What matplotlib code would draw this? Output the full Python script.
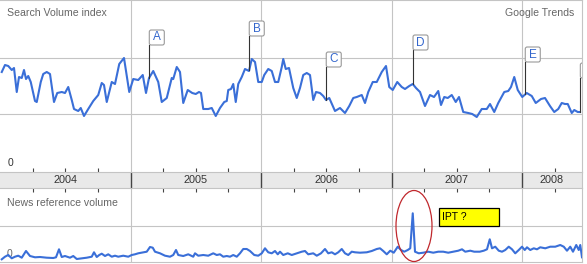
import numpy as np
import matplotlib
matplotlib.use("Agg")
import matplotlib.pyplot as plt
from matplotlib.patches import FancyBboxPatch, Ellipse, Rectangle

plt.rcParams['font.family'] = ['Liberation Sans', 'DejaVu Sans']

# search volume index, weeks since start of 2004 / relative index
search_weeks = [0.7, 2.0, 3.3, 4.7, 5.6, 6.7, 7.6, 8.7, 9.6, 10.4, 11.3, 12.3, 14.0, 14.7, 16.3, 17.3, 18.7, 20.0,
                21.6, 22.9, 24.7, 26.0, 27.3, 28.7, 29.6, 31.3, 32.3, 33.6, 35.3, 37.3, 39.3, 40.7, 41.6, 42.7,
                44.7, 46.0, 47.7, 49.6, 51.7, 53.3, 55.3, 57.1, 58.4, 59.6, 61.3, 63.3, 64.7, 66.7, 68.7, 69.3,
                70.7, 72.0, 73.3, 75.1, 76.9, 78.3, 79.6, 80.4, 81.3, 83.3, 84.7, 86.3, 88.0, 89.7, 90.7, 91.3,
                92.4, 93.3, 94.3, 95.3, 96.7, 98.0, 99.6, 100.7, 102.0, 103.3, 104.7, 105.7, 107.3, 108.7, 110.0,
                111.3, 112.7, 113.3, 114.3, 115.6, 117.3, 118.7, 120.0, 121.3, 122.7, 124.0, 125.3, 126.4, 128.0,
                129.3, 130.4, 131.7, 134.0, 136.0, 138.0, 139.7, 141.3, 142.7, 144.7, 146.0, 147.3, 149.1, 150.7,
                152.7, 154.4, 155.7, 157.1, 158.9, 160.7, 162.0, 163.7, 165.1, 166.4, 168.0, 170.0, 172.0, 173.6,
                175.3, 176.4, 177.7, 179.1, 180.7, 182.3, 183.6, 185.3, 187.3, 188.9, 190.7, 192.7, 194.7, 196.0,
                197.7, 199.3, 201.7, 203.3, 204.4, 205.7, 207.1, 208.9, 210.7, 212.7, 214.3, 216.4, 218.0, 220.0,
                221.7, 223.3, 224.7, 226.0, 227.1, 228.7, 229.7, 231.1, 232.0]
search_vals = [98, 105, 104, 100, 102, 78, 93, 92, 100, 91, 94, 88, 69, 68, 88, 96, 98, 96,
               68, 77, 78, 77, 83, 70, 61, 59, 62, 54, 61, 69, 75, 87, 85, 68,
               88, 86, 106, 112, 78, 91, 90, 95, 77, 92, 99, 88, 68, 72, 92, 91,
               103, 98, 67, 80, 77, 76, 78, 77, 61, 61, 62, 54, 62, 68, 69, 80,
               81, 86, 68, 86, 93, 101, 99, 111, 108, 88, 88, 95, 101, 99, 88,
               88, 103, 111, 101, 102, 82, 72, 82, 95, 97, 95, 70, 78, 77,
               74, 70, 72, 59, 62, 57, 64, 72, 73, 75, 67, 78, 88, 88,
               98, 104, 83, 80, 88, 83, 81, 84, 86, 82, 78, 64, 75, 73,
               79, 65, 73, 72, 75, 68, 73, 58, 57, 56, 53, 61, 61, 66,
               58, 67, 78, 79, 83, 93, 80, 73, 77, 74, 67, 71, 72, 64,
               58, 61, 67, 66, 66, 57, 60, 58, 58]

# news reference volume
news_weeks = [0.7, 2.0, 3.3, 4.7, 6.0, 7.3, 8.7, 10.4, 12.0, 14.0, 16.0, 18.7, 21.3, 22.4, 23.6, 24.7, 26.0,
              28.0, 29.3, 30.7, 32.7, 34.7, 36.7, 37.6, 38.7, 39.7, 40.7, 42.0, 43.3, 44.7, 46.0, 47.3, 49.3,
              51.3, 52.7, 54.0, 55.3, 57.3, 58.7, 60.0, 61.1, 62.0, 64.0, 66.0, 68.0, 69.3, 70.4, 71.3, 73.3,
              75.3, 77.3, 78.0, 79.3, 81.3, 83.3, 85.3, 86.7, 88.0, 89.3, 90.7, 92.0, 93.3, 94.7, 96.0, 97.3,
              98.7, 100.0, 101.7, 103.3, 104.7, 106.0, 107.3, 108.7, 110.0, 111.1, 112.0, 113.3, 115.1, 116.7,
              118.7, 120.7, 122.0, 123.3, 125.3, 126.7, 128.4, 130.0, 131.3, 132.7, 134.0, 135.3, 136.7, 138.0,
              139.3, 140.7, 142.0, 144.0, 146.7, 148.7, 150.7, 152.0, 153.3, 154.7, 156.1, 157.5, 159.1, 160.4,
              161.7, 163.1, 164.1, 165.1, 166.0, 167.5, 169.3, 171.3, 173.3, 175.3, 177.3, 179.3, 181.3, 183.3,
              184.8, 186.1, 188.1, 189.7, 191.9, 193.5, 194.8, 195.9, 196.8, 198.1, 199.5, 200.8, 202.1, 203.5,
              204.8, 206.1, 207.5, 208.8, 209.9, 210.8, 212.1, 213.5, 214.8, 216.1, 218.1, 220.1, 222.1, 224.1,
              225.5, 226.8, 228.1, 229.2, 230.5, 231.5, 232.1, 232.8]
news_vals = [1.7, 4.3, 6, 2.7, 4.3, 5.3, 3.3, 10, 5, 3.7, 4, 3.3, 3, 3.7, 11.7, 4, 5,
             3.3, 5, 2, 2.7, 3.3, 4.3, 8.7, 4, 6, 7.3, 5, 6.7, 4.3, 5.3, 4.3, 5.3,
             4.3, 6, 6.7, 7.7, 8.7, 9.3, 14, 13.3, 9.3, 7.7, 5.3, 4.3, 6, 11, 6, 5,
             6.7, 4.3, 7.7, 5.3, 6, 5.3, 7.7, 6, 6.7, 4.3, 5, 4.3, 6, 4.3, 7.7, 12,
             12, 10, 6, 5.3, 7.7, 12.7, 8.7, 7.7, 10, 6.7, 9.3, 6, 7.7, 6,
             7.7, 9.3, 10, 6.7, 7.7, 5.3, 7.7, 12, 7.7, 8.7, 6.7, 8.7, 12, 7.7,
             6, 9.3, 8.7, 8.3, 8.7, 10, 12, 12.7, 10, 6.7, 10.3, 8.3, 14.3, 11,
             9.3, 11, 12.7, 47.7, 9.3, 7.7, 8.3, 9.3, 8.3, 9.3, 9.3, 8.3, 9.3, 10.3,
             11.7, 9.3, 10.3, 9.3, 9.3, 10.3, 11.7, 21.7, 12.7, 14.3, 10.3, 9.3, 11, 14.3,
             11.7, 7.7, 11, 14.3, 11, 13.7, 11, 12.7, 11.7, 13.7, 12.7, 14.3, 14.3, 16,
             14.3, 10.3, 14.3, 9.3, 16, 11, 16, 3.7]

years = [2004, 2005, 2006, 2007, 2008]
marker_letters = ['A', 'B', 'C', 'D', 'E', '']
marker_dates = [2005.144, 2005.910, 2006.500, 2007.165, 2008.025, 2008.447]

x_search = 2004 + np.array(search_weeks) / 52.2
x_news = 2004 + np.array(news_weeks) / 52.2
x_end = 2004 + 582 / 130.5

blue = '#3a6fd8'
grid = '#c4c4c4'
W, H = 587, 264

fig = plt.figure(figsize=(W / 100, H / 100), dpi=100)
ax = fig.add_axes([0, (H - 172) / H, 582 / W, 172 / H])
ax2 = fig.add_axes([0, 2 / H, 582 / W, 73.7 / H])
band = fig.add_axes([0, (H - 188.3) / H, 582 / W, 16.3 / H])

for a in (ax, band, ax2):
    a.set_xlim(2004, x_end)
    a.set_xticks([])
    a.set_yticks([])
    for s in a.spines.values():
        s.set_color(grid)
        s.set_linewidth(0.8)
    a.spines['left'].set_visible(False)
ax.set_facecolor('none')
ax2.set_facecolor('none')

# search panel
ax.set_ylim(-2, 170)
ax.spines['bottom'].set_visible(False)
for g in (56, 112):
    ax.axhline(g, color=grid, lw=0.8, zorder=1)
for y in years[1:]:
    ax.axvline(y, color=grid, lw=0.8, zorder=1)
ax.plot(x_search, search_vals, color=blue, lw=1.5, zorder=3, solid_joinstyle='round')

box_bottoms = [125, 134, 103, 120, 108, 92]
bw = 15 / 130.5
for lab, mx, yb in zip(marker_letters, marker_dates, box_bottoms):
    yv = np.interp(mx, x_search, search_vals)
    ax.plot([mx, mx], [yv, yb], color='#333333', lw=0.8, zorder=4)
    p = FancyBboxPatch((mx, yb), bw, 15, boxstyle='round,pad=0,rounding_size=0.015',
                       mutation_aspect=130.5, fc='white', ec='#999999', lw=0.8, zorder=5)
    ax.add_patch(p)
    ax.text(mx + bw / 2, yb + 7.5, lab, color='#3366cc', fontsize=8.5,
            ha='center', va='center', zorder=6)

# year band
band.set_facecolor('#e9e9e9')
band.set_ylim(0, 1)
quarters = [y + q for y in years for q in (0.25, 0.5, 0.75) if y + q < x_end]
band.set_xticks(quarters)
band.set_xticklabels([])
band.tick_params(axis='x', which='both', direction='out', length=3, width=0.8,
                 color='#444444', top=True, bottom=True)
for y in years[1:]:
    band.axvline(y, color='#444444', lw=1)
for y in years:
    c = (y + min(y + 1, x_end)) / 2
    band.text(c, 0.5, str(y), ha='center', va='center', fontsize=7.8, color='#333333')

# news panel
ax2.set_ylim(-1, 72.7)
ax2.spines['top'].set_visible(False)
ax2.axhline(35, color=grid, lw=0.8, zorder=1)
for y in years[1:]:
    ax2.axvline(y, color=grid, lw=0.8, zorder=1)
ax2.plot(x_news, news_vals, color=blue, lw=1.5, zorder=3, solid_joinstyle='round')
ax2.text(9.5 / W, 1 - 254 / H, '0', transform=fig.transFigure, fontsize=7.5,
         color='#666666', ha='center', va='center', zorder=2)

ax2.add_patch(Ellipse((2004 + 414 / 130.5, 35), 36 / 130.5, 71, fill=False,
                      ec='#c0282d', lw=0.9, zorder=4, clip_on=False))
ax2.add_patch(Rectangle((2007.366, 35.3), 0.455, 17.4, fc='#ffff00', ec='black',
                        lw=0.9, zorder=4, clip_on=False))
ax2.text(2007.366 + 2.5 / 130.5, 44.2, 'IPT ?', fontsize=7.5, color='black',
         ha='left', va='center', zorder=5)

fig.text(7 / W, 1 - 13 / H, 'Search Volume index', fontsize=7.6, color='#666666', va='center')
fig.text(574 / W, 1 - 13 / H, 'Google Trends', fontsize=7.6, color='#666666', va='center', ha='right')
fig.text(10 / W, 1 - 163.5 / H, '0', fontsize=7.5, color='#333333', va='center', ha='center')
fig.text(7 / W, 1 - 203 / H, 'News reference volume', fontsize=7.6, color='#666666', va='center')

fig.savefig('out.png', dpi=100)
